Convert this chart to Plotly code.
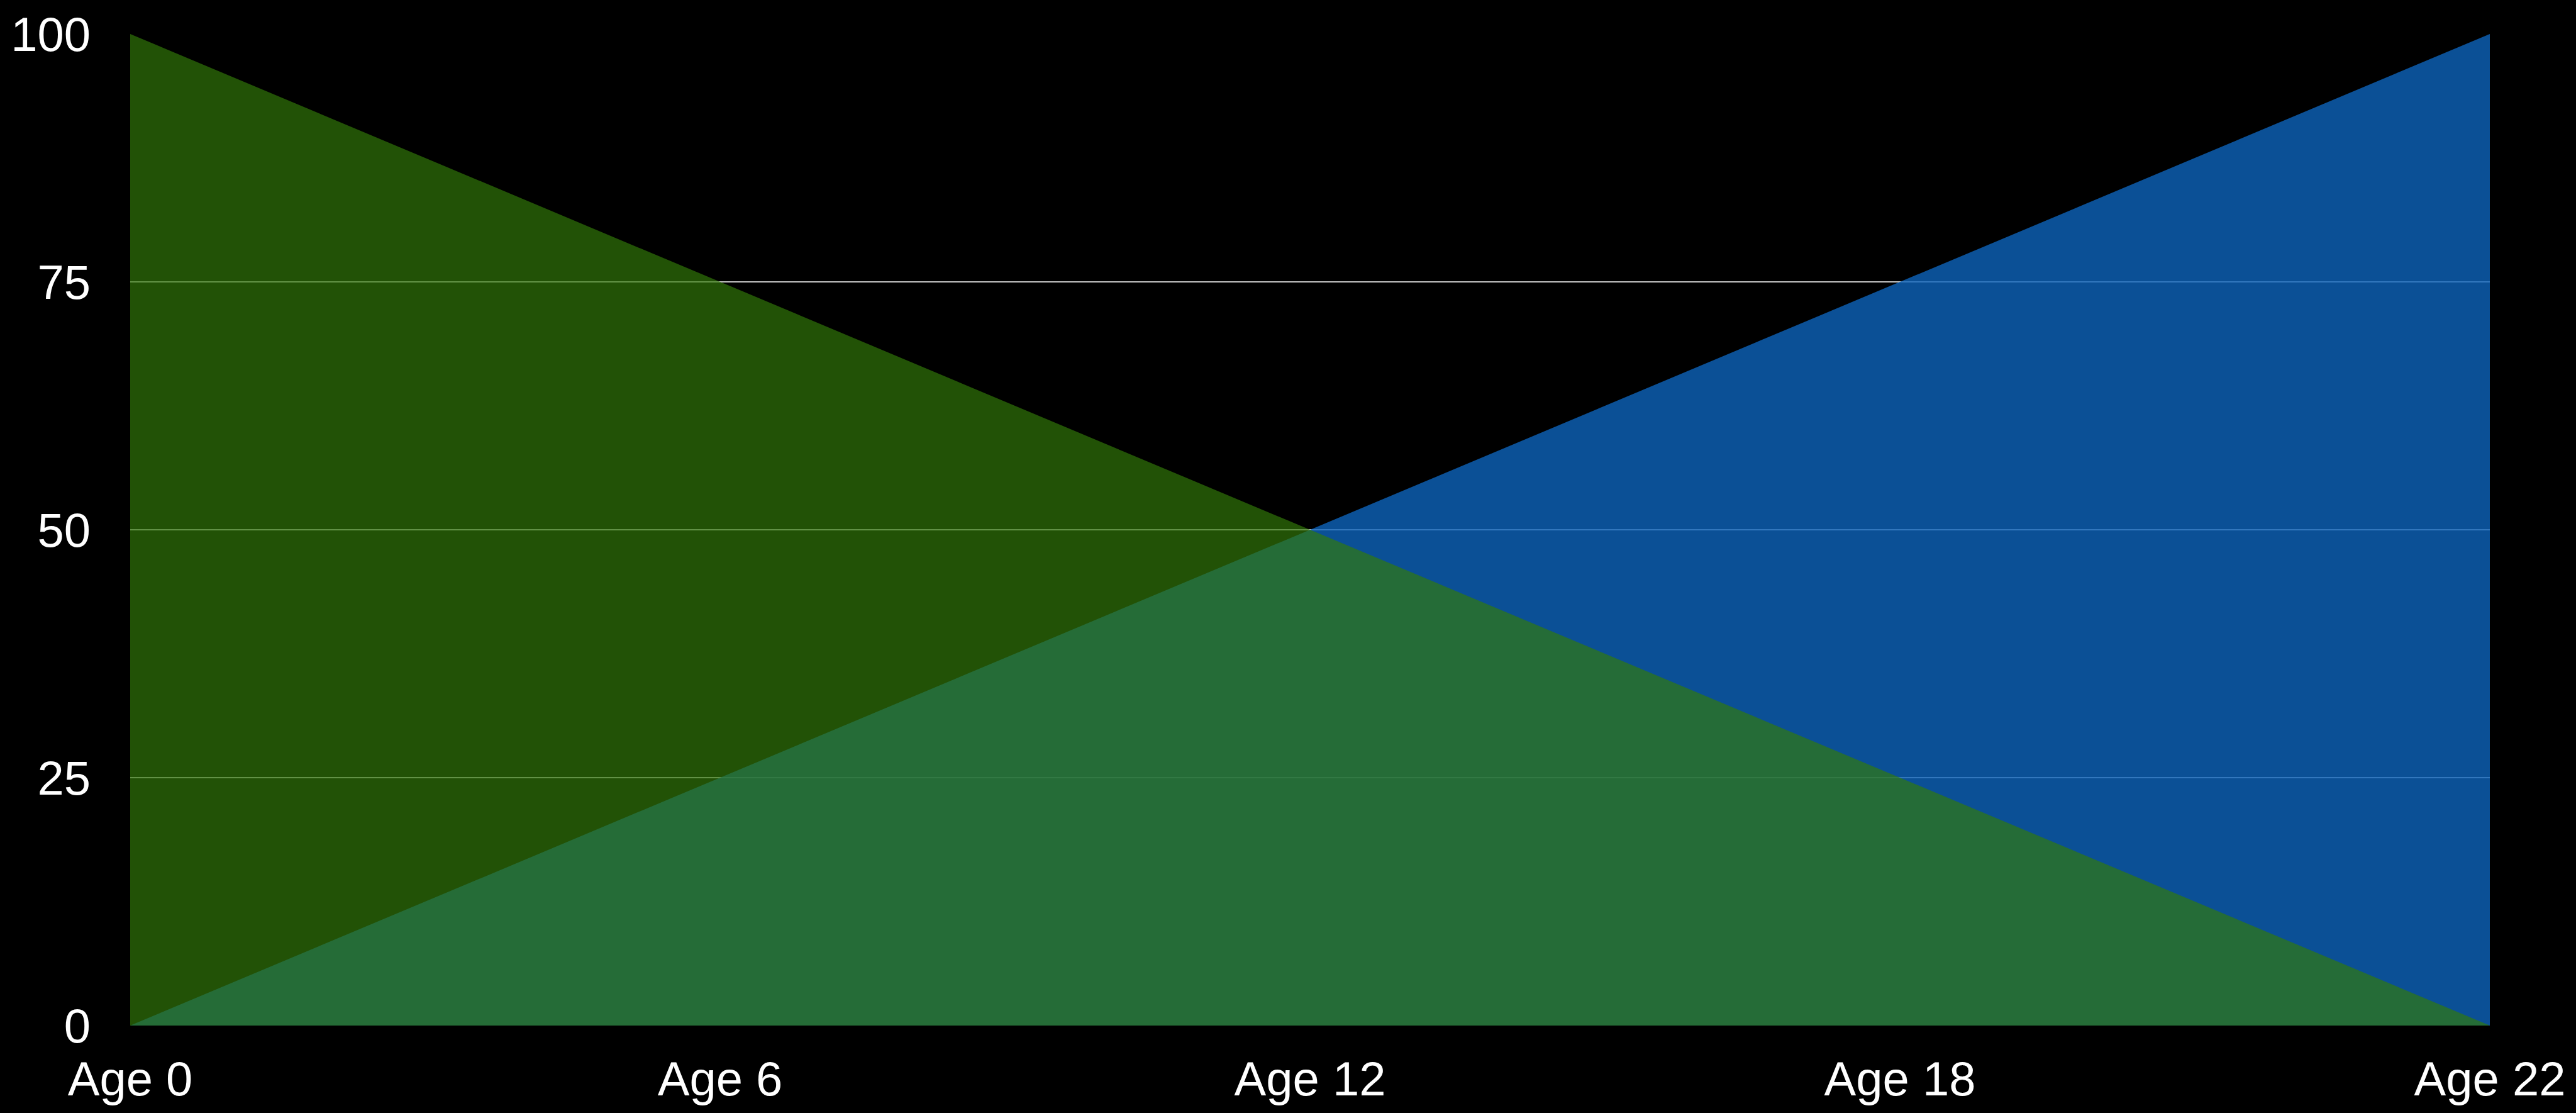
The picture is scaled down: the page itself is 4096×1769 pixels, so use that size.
import plotly.graph_objects as go

categories = ["Age 0", "Age 6", "Age 12", "Age 18", "Age 22"]
green_values = [100, 75, 50, 25, 0]
blue_values = [0, 25, 50, 75, 100]
y_ticks = [0, 25, 50, 75, 100]

fig = go.Figure()
fig.add_trace(go.Scatter(
    x=categories, y=blue_values, mode="lines", fill="tozeroy",
    line=dict(width=0, color="rgba(14,100,188,0.8)"),
    fillcolor="rgba(14,100,188,0.8)", showlegend=False, hoverinfo="skip"))
fig.add_trace(go.Scatter(
    x=categories, y=green_values, mode="lines", fill="tozeroy",
    line=dict(width=0, color="rgba(51,122,9,0.67)"),
    fillcolor="rgba(51,122,9,0.67)", showlegend=False, hoverinfo="skip"))

font = dict(family="Liberation Sans, Arial, sans-serif", size=76, color="white")

fig.update_layout(
    width=4096, height=1769,
    paper_bgcolor="black", plot_bgcolor="black",
    margin=dict(l=207, r=137, t=50, b=137),
    font=font,
    xaxis=dict(type="category", range=[0, 4], showgrid=False, zeroline=False,
               showline=False, ticks="", tickfont=font, ticklabelstandoff=34),
    yaxis=dict(range=[0, 100], tickvals=y_ticks, showgrid=True,
               gridcolor="rgba(215,215,215,0.9)", gridwidth=1.5,
               zeroline=False, showline=False, ticks="", tickfont=font,
               ticklabelstandoff=62),
)

fig.write_html("out.html", config={"displayModeBar": False},
               post_script="document.body.style.margin='0';document.body.style.overflow='hidden';")
